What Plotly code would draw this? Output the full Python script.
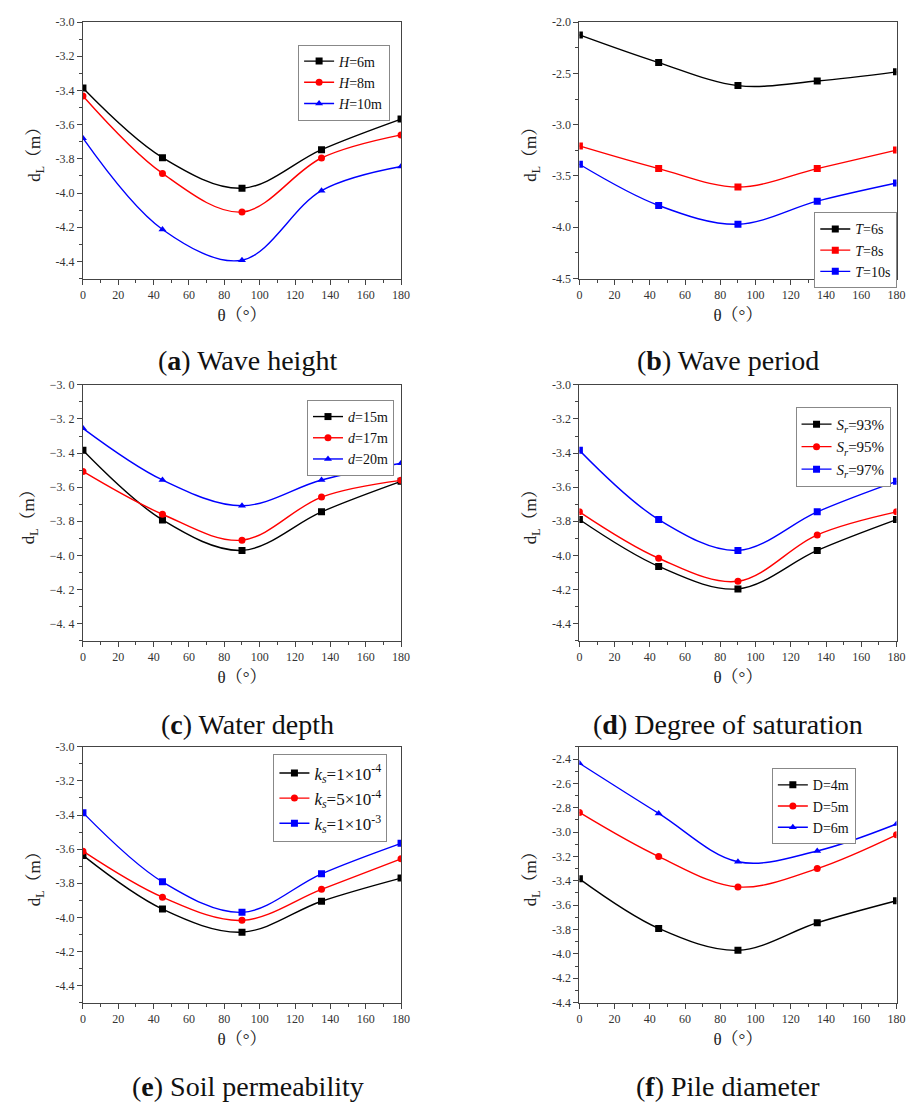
import plotly.graph_objects as go

W, H = 921, 1107

theta = [0, 45, 90, 135, 180]
x_ticks = [0, 20, 40, 60, 80, 100, 120, 140, 160, 180]

# (a) Wave height
a_names = ["<i>H</i>=6m", "<i>H</i>=8m", "<i>H</i>=10m"]
a_H6 = [-3.386, -3.793, -3.972, -3.746, -3.567]
a_H8 = [-3.432, -3.885, -4.111, -3.795, -3.660]
a_H10 = [-3.679, -4.213, -4.393, -3.986, -3.845]
a_yticks = [-3.0, -3.2, -3.4, -3.6, -3.8, -4.0, -4.2, -4.4]

# (b) Wave period
b_names = ["<i>T</i>=6s", "<i>T</i>=8s", "<i>T</i>=10s"]
b_T6 = [-2.125, -2.395, -2.619, -2.574, -2.485]
b_T8 = [-3.207, -3.428, -3.608, -3.428, -3.248]
b_T10 = [-3.386, -3.788, -3.971, -3.746, -3.569]
b_yticks = [-2.0, -2.5, -3.0, -3.5, -4.0, -4.5]

# (c) Water depth
c_names = ["<i>d</i>=15m", "<i>d</i>=17m", "<i>d</i>=20m"]
c_d15 = [-3.384, -3.792, -3.971, -3.745, -3.566]
c_d17 = [-3.508, -3.759, -3.911, -3.658, -3.560]
c_d20 = [-3.255, -3.558, -3.709, -3.558, -3.460]
c_yticks = [-3.0, -3.2, -3.4, -3.6, -3.8, -4.0, -4.2, -4.4]

# (d) Degree of saturation
d_names = ["<i>S<sub>r</sub></i>=93%", "<i>S<sub>r</sub></i>=95%", "<i>S<sub>r</sub></i>=97%"]
d_S93 = [-3.790, -4.065, -4.197, -3.971, -3.790]
d_S95 = [-3.745, -4.017, -4.152, -3.880, -3.745]
d_S97 = [-3.384, -3.790, -3.971, -3.745, -3.566]
d_yticks = [-3.0, -3.2, -3.4, -3.6, -3.8, -4.0, -4.2, -4.4]

# (e) Soil permeability
e_names = ["<i>k<sub>s</sub></i>=1×10<sup>-4</sup>", "<i>k<sub>s</sub></i>=5×10<sup>-4</sup>",
           "<i>k<sub>s</sub></i>=1×10<sup>-3</sup>"]
e_k1 = [-3.637, -3.952, -4.087, -3.906, -3.770]
e_k5 = [-3.612, -3.882, -4.018, -3.836, -3.657]
e_k10 = [-3.386, -3.792, -3.971, -3.745, -3.566]
e_yticks = [-3.0, -3.2, -3.4, -3.6, -3.8, -4.0, -4.2, -4.4]

# (f) Pile diameter
f_names = ["D=4m", "D=5m", "D=6m"]
f_D4 = [-3.384, -3.791, -3.971, -3.745, -3.564]
f_D5 = [-2.839, -3.201, -3.451, -3.300, -3.023]
f_D6 = [-2.435, -2.847, -3.244, -3.155, -2.934]
f_yticks = [-2.4, -2.6, -2.8, -3.0, -3.2, -3.4, -3.6, -3.8, -4.0, -4.2, -4.4]

captions = ["(<b>a</b>) Wave height", "(<b>b</b>) Wave period", "(<b>c</b>) Water depth",
            "(<b>d</b>) Degree of saturation", "(<b>e</b>) Soil permeability", "(<b>f</b>) Pile diameter"]

COLORS = ["#000000", "#FF0000", "#0000FF"]
SERIF = "Liberation Serif, Noto Serif CJK SC, Noto Sans CJK SC, serif"

panels = [
    dict(names=a_names, ys=[a_H6, a_H8, a_H10], yt=a_yticks, syms=["square", "circle", "triangle-up"],
         xd=(81, 403.3), yd=(15.3, 275), yr=(-4.5, -3.0), minor=0.1,
         leg=(299, 38), cap=(248, 358), fmt="plain", legfont=14),
    dict(names=b_names, ys=[b_T6, b_T8, b_T10], yt=b_yticks, syms=["square", "square", "square"],
         xd=(584, 905.3), yd=(15.3, 275), yr=(-4.5, -2.0), minor=0.25,
         leg=(822, 208), cap=(735, 358), fmt="plain", legfont=14),
    dict(names=c_names, ys=[c_d15, c_d17, c_d20], yt=c_yticks, syms=["square", "circle", "triangle-up"],
         xd=(81, 403.3), yd=(382.7, 641.7), yr=(-4.5, -3.0), minor=0.1,
         leg=(308, 398), cap=(248, 727), fmt="cjk", legfont=14),
    dict(names=d_names, ys=[d_S93, d_S95, d_S97], yt=d_yticks, syms=["square", "circle", "square"],
         xd=(584, 905.3), yd=(382.7, 641.7), yr=(-4.5, -3.0), minor=0.1,
         leg=(803, 405), cap=(735, 727), fmt="plain", legfont=15),
    dict(names=e_names, ys=[e_k1, e_k5, e_k10], yt=e_yticks, syms=["square", "circle", "square"],
         xd=(81, 403.3), yd=(749.3, 1008.3), yr=(-4.5, -3.0), minor=0.1,
         leg=(274, 757), cap=(248, 1093), fmt="plain", legfont=17),
    dict(names=f_names, ys=[f_D4, f_D5, f_D6], yt=f_yticks, syms=["square", "circle", "triangle-up"],
         xd=(584, 905.3), yd=(749.3, 1008.3), yr=(-4.4, -2.3), minor=0.1,
         leg=(779, 771), cap=(735, 1093), fmt="plain", legfont=14),
]

fig = go.Figure()
layout = dict(width=W, height=H, margin=dict(l=0, r=0, t=0, b=0),
              paper_bgcolor="white", plot_bgcolor="white", annotations=[])

for i, p in enumerate(panels):
    k = i + 1
    sfx = "" if k == 1 else str(k)
    legname = "legend" if k == 1 else f"legend{k}"
    for j in range(3):
        fig.add_trace(go.Scatter(
            x=theta, y=p["ys"][j], name=p["names"][j], mode="lines+markers",
            line=dict(color=COLORS[j], width=1.4, shape="spline", smoothing=1.0),
            marker=dict(symbol=p["syms"][j], size=7, color=COLORS[j]),
            xaxis="x" + sfx, yaxis="y" + sfx, legend=legname))
    if p["fmt"] == "cjk":
        ytext = [("−" if v < 0 else "") + f"{abs(v):.1f}".replace(".", ". ") for v in p["yt"]]
    else:
        ytext = [f"{v:.1f}" for v in p["yt"]]
    layout["xaxis" + sfx] = dict(
        domain=[p["xd"][0] / W, p["xd"][1] / W], anchor="y" + sfx, range=[0, 180],
        tickmode="array", tickvals=x_ticks, ticktext=[str(v) for v in x_ticks],
        showline=True, mirror=True, linecolor="#444", linewidth=1.2,
        ticks="outside", ticklen=5, tickcolor="#444", showgrid=False, zeroline=False,
        minor=dict(tickmode="linear", tick0=0, dtick=10, ticks="outside", ticklen=3, tickcolor="#444"),
        tickfont=dict(family=SERIF, size=12, color="#333"),
        title=dict(text="θ（°）", font=dict(family=SERIF, size=17, color="#222"), standoff=8))
    layout["yaxis" + sfx] = dict(
        domain=[1 - p["yd"][1] / H, 1 - p["yd"][0] / H], anchor="x" + sfx, range=list(p["yr"]),
        tickmode="array", tickvals=p["yt"], ticktext=ytext,
        showline=True, mirror=True, linecolor="#444", linewidth=1.2,
        ticks="outside", ticklen=5, tickcolor="#444", showgrid=False, zeroline=False,
        minor=dict(tickmode="linear", tick0=0, dtick=p["minor"], ticks="outside", ticklen=3, tickcolor="#444"),
        tickfont=dict(family=SERIF, size=12, color="#333"),
        title=dict(text="d<sub>L</sub>（m）", font=dict(family=SERIF, size=17, color="#222"), standoff=10))
    layout[legname] = dict(
        x=p["leg"][0] / W, y=1 - p["leg"][1] / H, xanchor="left", yanchor="top",
        bgcolor="white", bordercolor="#888", borderwidth=1,
        font=dict(family=SERIF, size=p["legfont"], color="#111"),
        itemwidth=30, tracegroupgap=0)
    layout["annotations"].append(dict(
        text=captions[i], x=p["cap"][0] / W, y=1 - p["cap"][1] / H, xref="paper", yref="paper",
        xanchor="center", yanchor="middle", showarrow=False,
        font=dict(family=SERIF, size=28, color="#111")))

fig.update_layout(**layout)
fig.write_html("out.html")
